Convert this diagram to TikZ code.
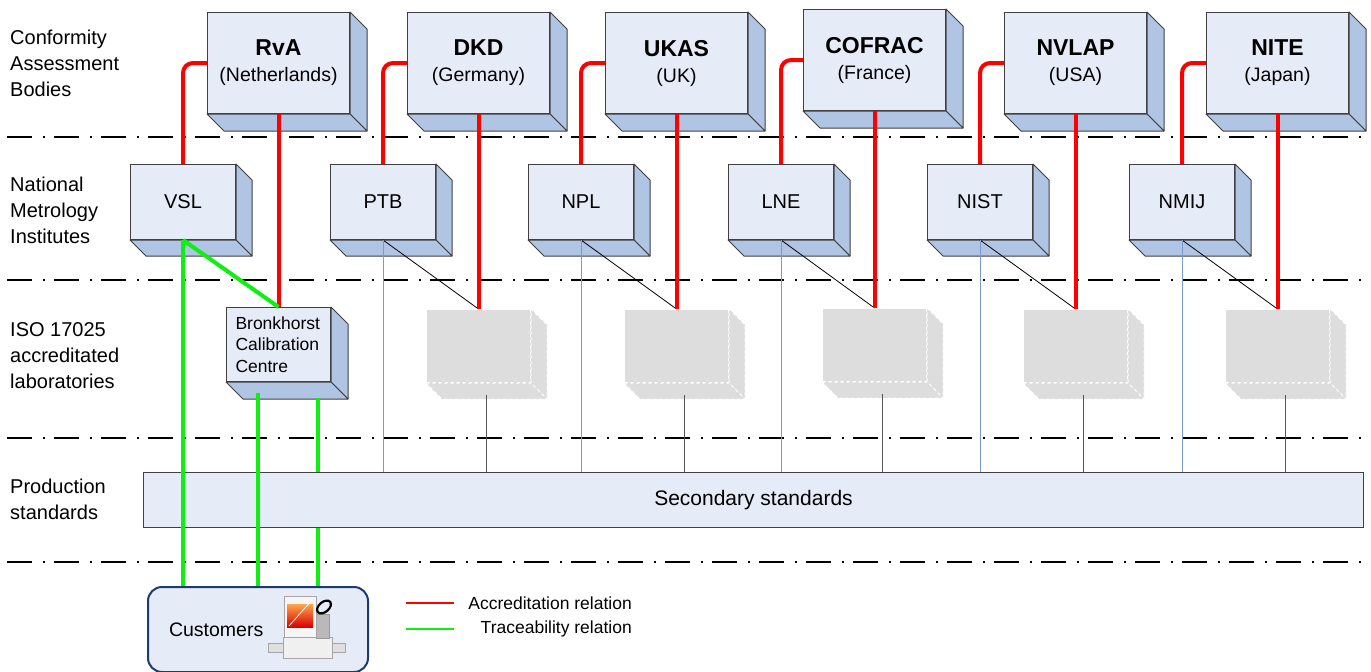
\documentclass[tikz,border=0pt]{standalone}
\usepackage{fontspec}
\setmainfont{Liberation Sans}
\usepackage{tikz}
\usetikzlibrary{calc}

\definecolor{boxfront}{HTML}{E6ECF7}
\definecolor{boxside}{HTML}{B0C4E4}
\definecolor{boxline}{HTML}{404040}
\definecolor{ghostgray}{HTML}{DDDDDD}
\definecolor{accred}{HTML}{FF0000}
\definecolor{tracegreen}{HTML}{11EE11}
\definecolor{thinblue}{HTML}{7B9BD0}
\definecolor{thingray}{HTML}{555555}
\definecolor{custline}{HTML}{1F3A6E}

\tikzset{
  face/.style={draw=boxline, fill=boxfront, line width=1pt, inner sep=0pt, anchor=north west, align=center},
  side/.style={draw=boxline, fill=boxside, line width=1pt, line join=round},
  cab/.style={face, minimum width=142pt, minimum height=101pt, font=\fontsize{19.5}{26}\selectfont},
  nmi/.style={face, minimum width=105pt, minimum height=75pt, font=\fontsize{20}{26}\selectfont},
  ghost/.style={draw=white, fill=ghostgray, dashed, line width=1pt, inner sep=0pt, anchor=north west, minimum width=104pt, minimum height=73pt},
  ghostside/.style={draw=white, fill=ghostgray, dashed, line width=1pt},
  accr/.style={accred, line width=4pt},
  trace/.style={tracegreen, line width=4pt},
  nmiline/.style={thinblue, line width=1pt},
  labline/.style={thingray, line width=1pt},
  diag/.style={black, line width=0.8pt},
  layer/.style={black, line width=2pt, dash pattern=on 25pt off 11pt on 2pt off 9pt},
  rowlabel/.style={anchor=west, align=left, inner sep=0pt, font=\fontsize{20}{26}\selectfont},
  legendtext/.style={anchor=east, inner sep=0pt, font=\fontsize{17.5}{21}\selectfont},
}

\newcommand{\depthfaces}[3]{%
  \path[#3] (#1.north east) -- ++(#2,#2) -- ($(#1.south east)+(#2,#2)$) -- (#1.south east) -- cycle;
  \path[#3] (#1.south west) -- ++(#2,#2) -- ($(#1.south east)+(#2,#2)$) -- (#1.south east) -- cycle;
}

\begin{document}
\begin{tikzpicture}[x=1pt, y=-1pt]
\useasboundingbox (0,0) rectangle (1371,672);

\node[rowlabel] (lcab) at (10,63) {Conformity\\Assessment\\Bodies};
\node[rowlabel] (lnmi) at (10,210) {National\\Metrology\\Institutes};
\node[rowlabel] (llab) at (10,356) {ISO 17025\\accreditated\\laboratories};
\node[rowlabel] (lprod) at (10,499) {Production\\standards};

\draw[layer] (7,137) -- (1366,137);
\draw[layer] (7,280) -- (1366,280);
\draw[layer] (7,438) -- (1366,438);
\draw[layer] (7,562) -- (1366,562);

\node[cab] (rva) at (207,12) {{\fontsize{23}{26}\selectfont\bfseries RvA}\\(Netherlands)};
\node[cab] (dkd) at (407,12) {{\fontsize{23}{26}\selectfont\bfseries DKD}\\(Germany)};
\node[cab] (ukas) at (605,12) {{\fontsize{23}{26}\selectfont\bfseries UKAS}\\(UK)};
\node[cab] (cofrac) at (803,9) {{\fontsize{23}{26}\selectfont\bfseries COFRAC}\\(France)};
\node[cab] (nvlap) at (1004,12) {{\fontsize{23}{26}\selectfont\bfseries NVLAP}\\(USA)};
\node[cab] (nite) at (1206,12) {{\fontsize{23}{26}\selectfont\bfseries NITE}\\(Japan)};
\depthfaces{rva}{17}{side}
\depthfaces{dkd}{17}{side}
\depthfaces{ukas}{17}{side}
\depthfaces{cofrac}{17}{side}
\depthfaces{nvlap}{17}{side}
\depthfaces{nite}{17}{side}

\node[nmi] (vsl) at (130,164) {VSL};
\node[nmi] (ptb) at (330,164) {PTB};
\node[nmi] (npl) at (528,164) {NPL};
\node[nmi] (lne) at (728,164) {LNE};
\node[nmi] (nist) at (927,164) {NIST};
\node[nmi] (nmij) at (1129,164) {NMIJ};
\depthfaces{vsl}{16}{side}
\depthfaces{ptb}{16}{side}
\depthfaces{npl}{16}{side}
\depthfaces{lne}{16}{side}
\depthfaces{nist}{16}{side}
\depthfaces{nmij}{16}{side}

\node[face, minimum width=104pt, minimum height=74pt, text width=86pt, inner xsep=9pt, align=left, font=\fontsize{17.5}{21.5}\selectfont] (bcc) at (226,307) {Bronkhorst\\Calibration\\Centre};
\depthfaces{bcc}{17}{side}

\node[ghost] (gdkd) at (426,309) {};
\node[ghost] (gukas) at (624,309) {};
\node[ghost] (gcofrac) at (822,308) {};
\node[ghost] (gnvlap) at (1023,309) {};
\node[ghost] (gnite) at (1225,309) {};
\depthfaces{gdkd}{16}{ghostside}
\depthfaces{gukas}{16}{ghostside}
\depthfaces{gcofrac}{16}{ghostside}
\depthfaces{gnvlap}{16}{ghostside}
\depthfaces{gnite}{16}{ghostside}

\node[face, minimum width=1220pt, minimum height=55pt, font=\fontsize{21}{26}\selectfont] (sec) at (143,472) {Secondary standards};

\draw[accr, rounded corners=10pt] (rva.west) -| (vsl.north);
\draw[accr, rounded corners=10pt] (dkd.west) -| (ptb.north);
\draw[accr, rounded corners=10pt] (ukas.west) -| (npl.north);
\draw[accr, rounded corners=10pt] (cofrac.west) -| (lne.north);
\draw[accr, rounded corners=10pt] (nvlap.west) -| (nist.north);
\draw[accr, rounded corners=10pt] (nite.west) -| (nmij.north);

\draw[diag] (ptb.south) -- (dkd.south |- gdkd.north);
\draw[diag] (npl.south) -- (ukas.south |- gukas.north);
\draw[diag] (lne.south) -- (cofrac.south |- gcofrac.north);
\draw[diag] (nist.south) -- (nvlap.south |- gnvlap.north);
\draw[diag] (nmij.south) -- (nite.south |- gnite.north);

\draw[accr] (rva.south) -- (rva.south |- bcc.north);
\draw[accr] (dkd.south) -- (dkd.south |- gdkd.north);
\draw[accr] (ukas.south) -- (ukas.south |- gukas.north);
\draw[accr] (cofrac.south) -- (cofrac.south |- gcofrac.north);
\draw[accr] (nvlap.south) -- (nvlap.south |- gnvlap.north);
\draw[accr] (nite.south) -- (nite.south |- gnite.north);

\draw[nmiline] (ptb.south) -- (ptb.south |- sec.north);
\draw[nmiline] (npl.south) -- (npl.south |- sec.north);
\draw[nmiline] (lne.south) -- (lne.south |- sec.north);
\draw[nmiline] (nist.south) -- (nist.south |- sec.north);
\draw[nmiline] (nmij.south) -- (nmij.south |- sec.north);

\draw[labline] ($(gdkd.south)+(8,12)$) coordinate (sdkd) -- (sdkd |- sec.north);
\draw[labline] ($(gukas.south)+(8,12)$) coordinate (sukas) -- (sukas |- sec.north);
\draw[labline] ($(gcofrac.south)+(8,12)$) coordinate (scofrac) -- (scofrac |- sec.north);
\draw[labline] ($(gnvlap.south)+(8,12)$) coordinate (snvlap) -- (snvlap |- sec.north);
\draw[labline] ($(gnite.south)+(8,12)$) coordinate (snite) -- (snite |- sec.north);

\node[draw=custline, fill=boxfront, line width=2pt, rounded corners=14pt, anchor=north west, minimum width=220pt, minimum height=85pt, text width=178pt, inner xsep=21pt, align=left, font=\fontsize{19.5}{24}\selectfont] (cust) at (147,586) {Customers};

\draw[trace] (vsl.south) -- (bcc.north);
\draw[trace] (vsl.south) -- (vsl.south |- cust.north);
\draw[trace] ($(bcc.south)+(-21,11)$) coordinate (tb1) -- (tb1 |- cust.north);
\draw[trace] ($(bcc.south east)+(-13,16)$) coordinate (tb2) -- (tb2 |- sec.north);
\draw[trace] (tb2 |- sec.south) -- (tb2 |- cust.north);

\filldraw[fill=gray!25, draw=gray!70] (268,643) rectangle (285,652);
\filldraw[fill=gray!25, draw=gray!70] (330,643) rectangle (345,652);
\filldraw[fill=gray!12, draw=gray!70] (283,637) rectangle (332,658);
\filldraw[fill=gray!55, draw=gray!80] (316,614) rectangle (329,638);
\filldraw[fill=gray!8, draw=gray!70] (284,596) rectangle (316,637);
\shade[top color=orange!70, bottom color=red!85!black] (287,604) rectangle (313,627);
\draw[white, line width=0.8pt] (289,626) -- (312,600);
\draw[black, line width=2.2pt, rotate around={40:(324,607)}] (324,607) ellipse (8 and 5);

\coordinate (la1) at (406,603);
\coordinate (la2) at (454,603);
\coordinate (lt1) at (406,629);
\coordinate (lt2) at (454,629);
\draw[accred, line width=2.5pt] (la1) -- (la2);
\draw[tracegreen, line width=2.5pt] (lt1) -- (lt2);
\node[legendtext] (accl) at (632,603) {Accreditation relation};
\node[legendtext] (tracel) at (632,629) {Traceability relation};
\end{tikzpicture}
\end{document}
